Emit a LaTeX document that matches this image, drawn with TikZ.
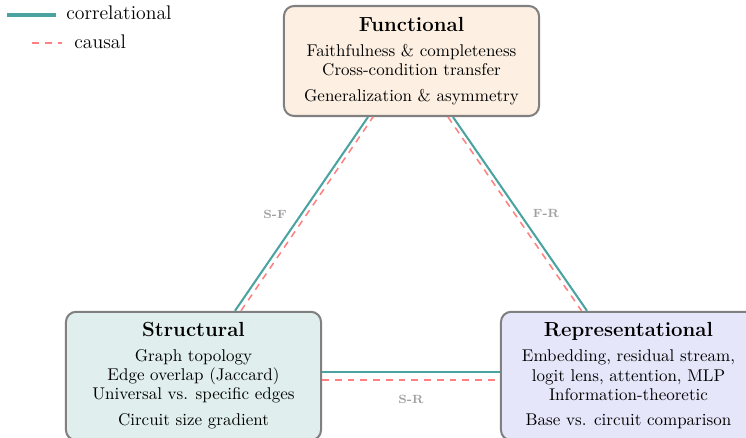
\documentclass[tikz,border=0pt]{standalone}
\usetikzlibrary{calc}
\definecolor{corr}{RGB}{74,163,160}
\definecolor{caus}{RGB}{255,128,128}
\definecolor{boxline}{RGB}{128,128,128}
\definecolor{funcfill}{RGB}{253,240,226}
\definecolor{strucfill}{RGB}{224,239,238}
\definecolor{reprfill}{RGB}{230,230,250}
\definecolor{lblgray}{RGB}{160,160,160}
\tikzset{
  dimbox/.style={draw=boxline, line width=1.2pt, rounded corners=6pt,
    minimum width=150pt, align=center, inner sep=2pt,
    font=\fontsize{10}{11.2}\selectfont},
  corrline/.style={draw=corr, line width=1.2pt},
  causline/.style={draw=caus, line width=0.9pt, dash pattern=on 4pt off 3.5pt},
  pairlbl/.style={font=\scriptsize\bfseries, text=lblgray, inner sep=1pt},
  legtext/.style={font=\fontsize{11.6}{14}\selectfont, anchor=west, inner sep=0pt}
}
\begin{document}
\begin{tikzpicture}[x=0.588pt,y=-0.588pt]
\useasboundingbox (0,0) rectangle (746,438);

% boxes
\node[dimbox, fill=funcfill, minimum height=64.7pt] (F) at (411.5,61)
  {{\large\bfseries Functional}\\[3.5pt]
   Faithfulness \& completeness\\
   Cross-condition transfer\\[4pt]
   Generalization \& asymmetry};
\node[dimbox, fill=strucfill, minimum height=75.5pt] (S) at (193.5,376)
  {{\large\bfseries Structural}\\[3.5pt]
   Graph topology\\
   Edge overlap (Jaccard)\\
   Universal vs. specific edges\\[4pt]
   Circuit size gradient};
\node[dimbox, fill=reprfill, minimum height=75.5pt] (R) at (628.5,376)
  {{\large\bfseries Representational}\\[3.5pt]
   Embedding, residual stream,\\
   logit lens, attention, MLP\\
   Information-theoretic\\[4pt]
   Base vs. circuit comparison};

% connectors S-F
\draw[corrline] ($(S.north)+(41.5,0)$) -- ($(F.south)+(-43.5,0)$);
\draw[causline] ($(S.north)+(47.5,0)$) -- ($(F.south)+(-38.5,0)$);
% F-R
\draw[corrline] ($(F.south)+(41.5,0)$) -- ($(R.north)+(-41.5,0)$);
\draw[causline] ($(F.south)+(36.5,0)$) -- ($(R.north)+(-47,0)$);
% S-R
\draw[corrline] ($(S.east)+(0,-4)$) -- ($(R.west)+(0,-4)$);
\draw[causline] ($(S.east)+(0,4)$) -- ($(R.west)+(0,4)$);

% pair labels
\node[pairlbl] (lsf) at (275,214) {S-F};
\node[pairlbl] (lfr) at (546,213) {F-R};
\node[pairlbl] (lsr) at (411,399) {S-R};

% legend
\coordinate (ca) at (7,15);
\coordinate (cb) at (56,15);
\draw[draw=corr, line width=2.4pt] (ca) -- (cb);
\node[legtext] (lcorr) at (66,13) {correlational};
\coordinate (da) at (32,43);
\coordinate (db) at (62,43);
\draw[causline] (da) -- (db);
\node[legtext] (lcaus) at (74,42) {causal};
\end{tikzpicture}
\end{document}
